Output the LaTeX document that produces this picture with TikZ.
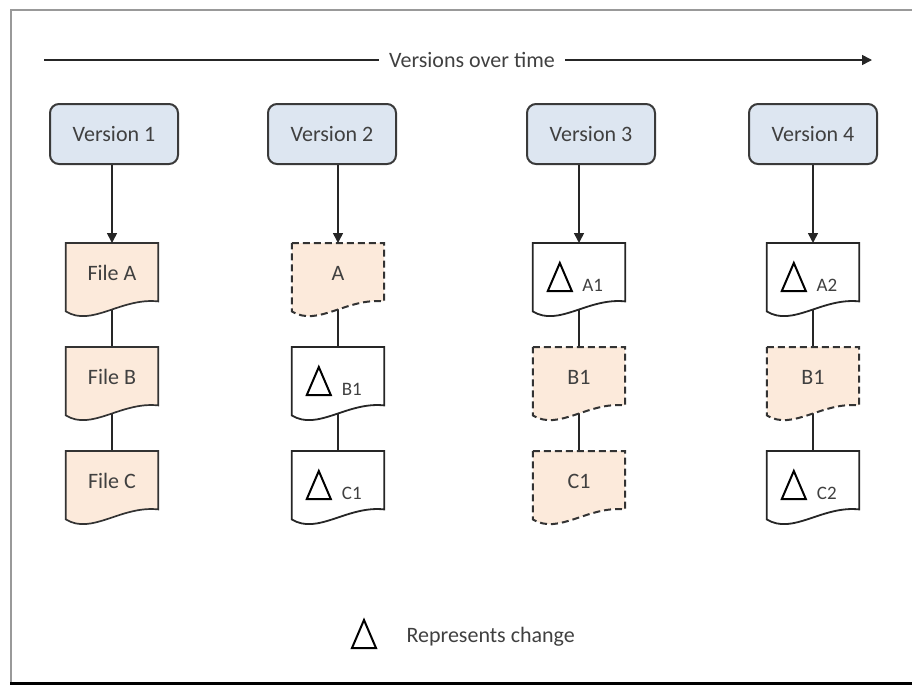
\documentclass[tikz,border=0pt]{standalone}
\usepackage{fontspec}
\setmainfont{Carlito}
\usetikzlibrary{arrows.meta,calc,backgrounds}
\definecolor{txt}{HTML}{404040}
\definecolor{verfill}{HTML}{DDE6F1}
\definecolor{verdraw}{HTML}{3A3A3A}
\definecolor{peach}{HTML}{FCEADB}
\newcommand\myDocShape[2]{\path[#2] (#1.north west) -- (#1.north east) -- ($(#1.south east)+(0,-2)$) .. controls ($(#1.south west)+(55,-6)$) and ($(#1.south west)+(26,24)$) .. ($(#1.south west)+(0,8)$) -- cycle;}
\begin{document}
\begin{tikzpicture}[x=1pt,y=-1pt,
  txtfont/.style={font=\fontsize{22}{26}\selectfont, text=txt},
  smallfont/.style={font=\fontsize{19}{22}\selectfont, text=txt},
  version/.style={draw=verdraw, fill=verfill, line width=2pt, rounded corners=9pt, minimum width=128pt, minimum height=60pt, txtfont},
  filebox/.style={minimum width=92pt, minimum height=60pt, inner sep=0pt, anchor=north, txtfont},
  link/.style={line width=1.6pt, draw=black!85},
  arr/.style={link, -{Triangle[length=10pt,width=10pt]}},
  solidfile/.style={draw=black!85, line width=1.8pt, fill=white},
  dashfile/.style={draw=black!80, line width=2pt, fill=peach, dash pattern=on 7pt off 4pt},
  plainfile/.style={draw=black!80, line width=1.7pt, fill=peach},
  chg/.style={draw=black, line width=2pt, line join=miter},
  delta/.pic={\draw[chg] (-12,14) -- (12,14) -- (0,-14) -- cycle;},
]
\useasboundingbox (0,0) rectangle (912,686);
% frame
\draw[gray!80, line width=2pt] (912,10) -- (11,10) -- (11,683);
\draw[black, line width=3pt] (10,683) -- (912,683);

% header arrow
\node[txtfont, inner xsep=10pt] (title) at (472,60) {Versions over time};
\coordinate (tl) at (44,60);
\coordinate (tr) at (872,60);
\draw[link] (tl) -- (title.west);
\draw[arr] (title.east) -- (tr);

% versions
\node[version] (v1) at (114,134) {Version 1};
\node[version] (v2) at (332,134) {Version 2};
\node[version] (v3) at (591,134) {Version 3};
\node[version] (v4) at (813,134) {Version 4};

% files column 1
\node[filebox] (f1a) at (112,243) {File A};
\node[filebox] (f1b) at (112,347) {File B};
\node[filebox] (f1c) at (112,451) {File C};
% column 2
\node[filebox] (f2a) at (338,243) {A};
\node[filebox] (f2b) at (338,347) {};
\node[filebox] (f2c) at (338,451) {};
% column 3
\node[filebox] (f3a) at (579,243) {};
\node[filebox] (f3b) at (579,347) {B1};
\node[filebox] (f3c) at (579,451) {C1};
% column 4
\node[filebox] (f4a) at (813,243) {};
\node[filebox] (f4b) at (813,347) {B1};
\node[filebox] (f4c) at (813,451) {};

% delta labels
\foreach \f/\t in {f2b/B1, f2c/C1, f3a/A1, f4a/A2, f4c/C2}{
  \pic at ($(\f.north west)+(27,34)$) {delta};
  \node[smallfont, anchor=base] (\f-lab) at ($(\f.north west)+(60,48)$) {\t};
}

\begin{pgfonlayer}{background}
  \foreach \c in {1,2,3,4}{
    \draw[link] (f\c a.center) -- (f\c b.center);
    \draw[link] (f\c b.center) -- (f\c c.center);
  }
  \myDocShape{f1a}{plainfile}
  \myDocShape{f1b}{plainfile}
  \myDocShape{f1c}{plainfile}
  \myDocShape{f2a}{dashfile}
  \myDocShape{f2b}{solidfile}
  \myDocShape{f2c}{solidfile}
  \myDocShape{f3a}{solidfile}
  \myDocShape{f3b}{dashfile}
  \myDocShape{f3c}{dashfile}
  \myDocShape{f4a}{solidfile}
  \myDocShape{f4b}{dashfile}
  \myDocShape{f4c}{solidfile}
\end{pgfonlayer}

% version to file arrows
\draw[arr] (v1.south -| f1a.north) -- (f1a.north);
\draw[arr] (v2.south -| f2a.north) -- (f2a.north);
\draw[arr] (v3.south -| f3a.north) -- (f3a.north);
\draw[arr] (v4.south -| f4a.north) -- (f4a.north);

% legend
\pic at (364,634) {delta};
\node[txtfont, anchor=base west] (legend) at (403,642) {Represents change};
\end{tikzpicture}
\end{document}
